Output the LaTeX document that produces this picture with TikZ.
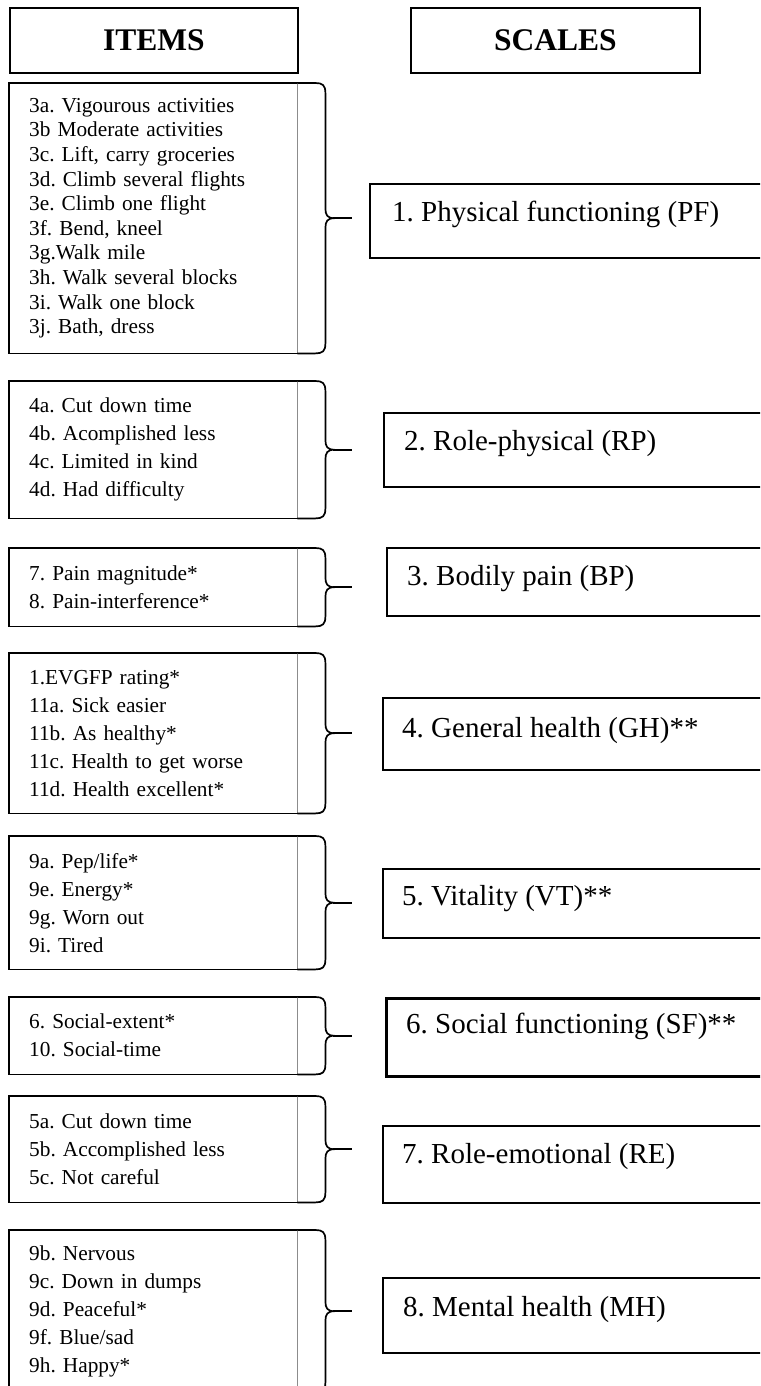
\documentclass[tikz,border=0pt]{standalone}
\usepackage{fontspec}
\setmainfont{Liberation Serif}
\usetikzlibrary{calc}
\frenchspacing
\tikzset{
  boxl/.style={line width=1.7pt, line cap=rect},
  grayl/.style={line width=0.9pt, draw=black!45},
  bracel/.style={line width=1.7pt, line join=round},
  itembox/.style={rectangle, draw=none, anchor=north west, minimum width=288pt,
    inner xsep=20pt, inner ysep=0pt, text width=248pt, align=left,
    font=\frenchspacing\fontsize{21.3}{28}\selectfont},
  headbox/.style={rectangle, draw, line width=1.7pt, anchor=north west,
    font=\fontsize{31.5}{36}\selectfont\bfseries},
  scalebox/.style={rectangle, draw, line width=1.6pt, anchor=north west, minimum width=420pt},
  scaletext/.style={anchor=base west, inner sep=0pt, font=\frenchspacing\fontsize{29}{34}\selectfont}
}
\newcommand\itemframe[1]{%
  \draw[boxl] (#1.north east) -- (#1.north west) -- (#1.south west) -- (#1.south east);
  \draw[grayl] (#1.north east) -- (#1.south east);}
\newcommand\itembrace[1]{%
  \draw[bracel] let \p1=(#1.north east), \p2=(#1.south east), \p3=(#1.east) in
    (\x1,\y1) -- ({\x1+18pt},\y1)
    .. controls ({\x1+25pt},\y1) and ({\x1+28pt},{\y1-2pt}) .. ({\x1+28pt},{\y1-10pt})
    -- ({\x1+28pt},{\y3+10pt})
    .. controls ({\x1+28pt},{\y3+3pt}) and ({\x1+30pt},\y3) .. ({\x1+37pt},\y3)
    .. controls ({\x1+30pt},\y3) and ({\x1+28pt},{\y3-3pt}) .. ({\x1+28pt},{\y3-10pt})
    -- ({\x1+28pt},{\y2+10pt})
    .. controls ({\x1+28pt},{\y2+2pt}) and ({\x1+25pt},\y2) .. ({\x1+18pt},\y2)
    -- (\x2,\y2);
  \draw[bracel] let \p3=(#1.east) in ({\x3+36pt},\y3) -- ({\x3+55pt},\y3);}
\begin{document}
\begin{tikzpicture}[x=1pt,y=-1pt]
\useasboundingbox (0,0) rectangle (760,1386);
\clip (0,0) rectangle (760,1386);
\fill[white] (0,0) rectangle (760,1386);
% headers
\node[headbox, minimum width=288pt, minimum height=65pt] (h1) at (9,7) {ITEMS};
\node[headbox, minimum width=289pt, minimum height=65pt] (h2) at (410,7) {SCALES};
% item boxes
\node[itembox, minimum height=270pt, font=\frenchspacing\fontsize{21.3}{24.6}\selectfont] (b1) at (9,83)
  {3a. Vigourous activities\\3b Moderate activities\\3c. Lift, carry groceries\\3d. Climb several flights\\3e. Climb one flight\\3f. Bend, kneel\\3g.Walk mile\\3h. Walk several blocks\\3i. Walk one block\\3j. Bath, dress};
\node[itembox, minimum height=137pt] (b2) at (9,381)
  {4a. Cut down time\\4b. Acomplished less\\4c. Limited in kind\\4d. Had difficulty};
\node[itembox, minimum height=78pt] (b3) at (9,548)
  {7. Pain magnitude*\\8. Pain-interference*};
\node[itembox, minimum height=160pt] (b4) at (9,653)
  {1.EVGFP rating*\\11a. Sick easier\\11b. As healthy*\\11c. Health to get worse\\11d. Health excellent*};
\node[itembox, minimum height=133pt] (b5) at (9,836)
  {9a. Pep/life*\\9e. Energy*\\9g. Worn out\\9i. Tired};
\node[itembox, minimum height=77pt] (b6) at (9,997)
  {6. Social-extent*\\10. Social-time};
\node[itembox, minimum height=106pt] (b7) at (9,1096)
  {5a. Cut down time\\5b. Accomplished less\\5c. Not careful};
\node[itembox, minimum height=162pt] (b8) at (9,1230)
  {9b. Nervous\\9c. Down in dumps\\9d. Peaceful*\\9f. Blue/sad\\9h. Happy*};
\foreach \b in {b1,b2,b3,b4,b5,b6,b7,b8}{\itemframe{\b}\itembrace{\b}}
% scale boxes
\node[scalebox, minimum height=74pt] (s1) at (369,183) {};
\node[scalebox, minimum height=74pt] (s2) at (383,412) {};
\node[scalebox, minimum height=68pt] (s3) at (386,547) {};
\node[scalebox, minimum height=72pt] (s4) at (382,697) {};
\node[scalebox, minimum height=69pt] (s5) at (382,868) {};
\node[scalebox, minimum height=78pt, line width=2.6pt] (s6) at (385,997) {};
\node[scalebox, minimum height=77pt] (s7) at (382,1125) {};
\node[scalebox, minimum height=75pt] (s8) at (382,1277) {};
\node[scaletext] (t1) at ($(s1.north west)+(23,38)$) {1. Physical functioning (PF)};
\node[scaletext] (t2) at ($(s2.north west)+(21,38)$) {2. Role-physical (RP)};
\node[scaletext] (t3) at ($(s3.north west)+(21,38)$) {3. Bodily pain (BP)};
\node[scaletext] (t4) at ($(s4.north west)+(20,40)$) {4. General health (GH)**};
\node[scaletext] (t5) at ($(s5.north west)+(20,37)$) {5. Vitality (VT)**};
\node[scaletext] (t6) at ($(s6.north west)+(21,36)$) {6. Social functioning (SF)**};
\node[scaletext] (t7) at ($(s7.north west)+(20,38)$) {7. Role-emotional (RE)};
\node[scaletext] (t8) at ($(s8.north west)+(21,39)$) {8. Mental health (MH)};
\end{tikzpicture}
\end{document}
